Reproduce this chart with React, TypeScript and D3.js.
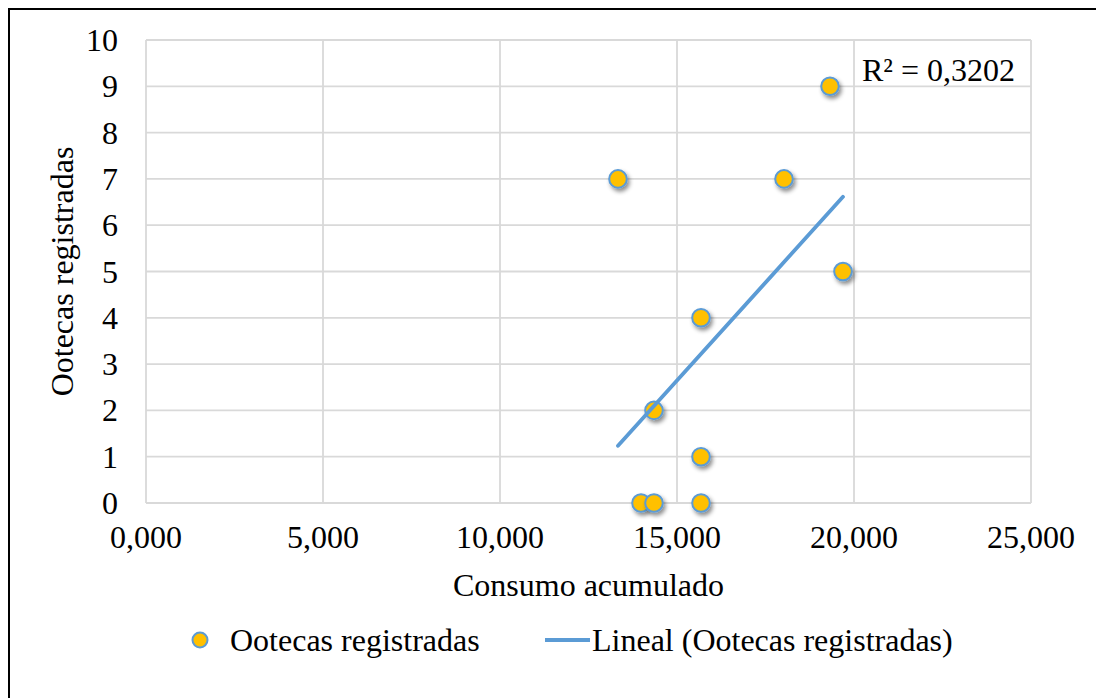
import React from "react";
import * as d3 from "d3";

const consumo = [13333, 13983, 14350, 14350, 15678, 15678, 15678, 18023, 19322, 19689];
const ootecas = [7, 0, 0, 2, 0, 1, 4, 7, 9, 5];
const xTicks = [0, 5000, 10000, 15000, 20000, 25000];
const yTicks = [0, 1, 2, 3, 4, 5, 6, 7, 8, 9, 10];
const r2Label = "R² = 0,3202";
const seriesName = "Ootecas registradas";
const trendName = "Lineal (Ootecas registradas)";
const xTitle = "Consumo acumulado";
const yTitle = "Ootecas registradas";

const W = 1088;
const H = 690;
const FONT = "'Liberation Serif', 'Times New Roman', serif";
const BLUE = "#5B9BD5";
const GOLD = "#FFC000";
const GRID = "#D9D9D9";

export default function App() {
  const left = 138, right = 1023, top = 32, bottom = 495;
  const x = d3.scaleLinear().domain([0, 25000]).range([left, right]);
  const y = d3.scaleLinear().domain([0, 10]).range([bottom, top]);
  const fmtX = (v: number) => d3.format(",.3f")(v / 1000).replace(".", ",");

  const mx = d3.mean(consumo)!;
  const my = d3.mean(ootecas)!;
  let sxy = 0, sxx = 0;
  consumo.forEach((cx, i) => {
    sxy += (cx - mx) * (ootecas[i] - my);
    sxx += (cx - mx) * (cx - mx);
  });
  const slope = sxy / sxx;
  const icpt = my - slope * mx;
  const [x0, x1] = d3.extent(consumo) as [number, number];
  const trend = d3.line<number>().x((v) => x(v)).y((v) => y(icpt + slope * v))([x0, x1]);

  return (
    <svg width={W} height={H} style={{ display: "block", position: "fixed", left: 8, top: 8 }} fontFamily={FONT}>
      <defs>
        <filter id="sh" x="-50%" y="-50%" width="200%" height="200%">
          <feDropShadow dx="2" dy="3" stdDeviation="2" floodColor="#000" floodOpacity="0.45" />
        </filter>
      </defs>
      <rect x={0} y={0} width={W} height={H} fill="#fff" />
      <path d={`M1,${H} V1 H${W}`} fill="none" stroke="#000" strokeWidth={2} />
      {yTicks.map((t) => (
        <line key={"gy" + t} x1={left} x2={right} y1={y(t)} y2={y(t)} stroke={GRID} strokeWidth={1.8} />
      ))}
      {xTicks.map((t) => (
        <line key={"gx" + t} x1={x(t)} x2={x(t)} y1={top} y2={bottom} stroke={GRID} strokeWidth={1.8} />
      ))}
      {yTicks.map((t) => (
        <text key={"ty" + t} x={110} y={y(t) + 11} textAnchor="end" fontSize={32}>{t}</text>
      ))}
      {xTicks.map((t) => (
        <text key={"tx" + t} x={x(t)} y={540} textAnchor="middle" fontSize={32}>{fmtX(t)}</text>
      ))}
      <text x={(left + right) / 2} y={588} textAnchor="middle" fontSize={32}>{xTitle}</text>
      <text transform={`translate(65,${(top + bottom) / 2}) rotate(-90)`} textAnchor="middle" fontSize={32}>{yTitle}</text>
      {consumo.map((cx, i) => (
        <circle key={"p" + i} cx={x(cx)} cy={y(ootecas[i])} r={8.8} fill={GOLD} stroke={BLUE} strokeWidth={2} filter="url(#sh)" />
      ))}
      <path d={trend || ""} fill="none" stroke={BLUE} strokeWidth={3.8} strokeLinecap="round" />
      <text x={854} y={73} fontSize={32}>{r2Label}</text>
      <circle cx={192} cy={632} r={7.5} fill={GOLD} stroke={BLUE} strokeWidth={2} />
      <text x={222} y={643} fontSize={32}>{seriesName}</text>
      <line x1={537} x2={582} y1={632} y2={632} stroke={BLUE} strokeWidth={3.8} />
      <text x={584} y={643} fontSize={32}>{trendName}</text>
    </svg>
  );
}
